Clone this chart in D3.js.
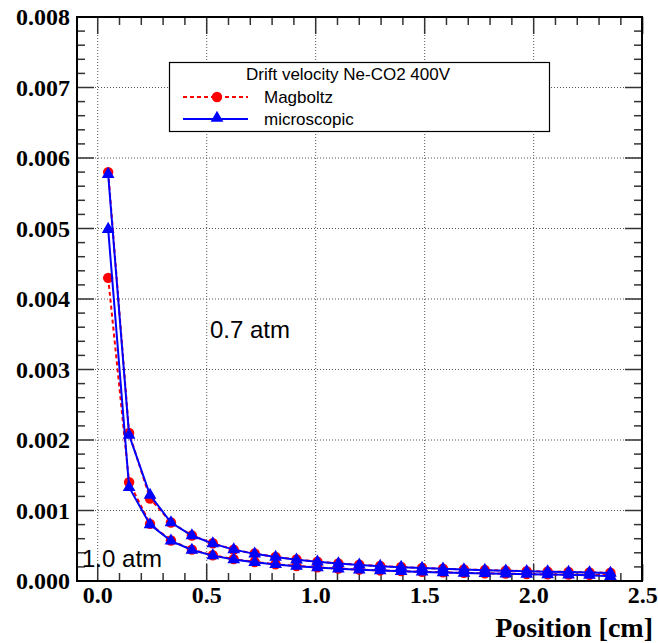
<!DOCTYPE html>
<html>
<head>
<meta charset="utf-8">
<script src="https://cdn.jsdelivr.net/npm/d3@7"></script>
<style>
  html, body { margin: 0; padding: 0; background: #fff; }
  svg { display: block; }
</style>
</head>
<body>
<svg id="chart" width="658" height="643"></svg>
<script>
// Drift position bins (cm): 25 bins of width 0.096 from 0 to 2.4, centres
const positions = [0.048, 0.144, 0.240, 0.336, 0.432, 0.528, 0.624, 0.720, 0.816, 0.912,
  1.008, 1.104, 1.200, 1.296, 1.392, 1.488, 1.584, 1.680, 1.776, 1.872,
  1.968, 2.064, 2.160, 2.256, 2.352];

// Drift velocity (cm/ns) at 0.7 atm
const magboltz07 = [0.00580, 0.00210, 0.00117, 0.00083, 0.000645, 0.000535, 0.000445, 0.000390, 0.000340, 0.000305,
  0.000275, 0.000250, 0.000230, 0.000213, 0.000198, 0.000185, 0.000174, 0.000164, 0.000155, 0.000147,
  0.000140, 0.000134, 0.000128, 0.000122, 0.000117];
const micro07 = [0.00577, 0.00207, 0.00122, 0.00083, 0.000645, 0.000530, 0.000445, 0.000385, 0.000340, 0.000300,
  0.000272, 0.000248, 0.000228, 0.000210, 0.000196, 0.000183, 0.000172, 0.000162, 0.000153, 0.000145,
  0.000138, 0.000132, 0.000126, 0.000120, 0.000113];

// Drift velocity (cm/ns) at 1.0 atm
const magboltz10 = [0.00430, 0.00140, 0.00081, 0.000575, 0.000445, 0.000365, 0.000310, 0.000270, 0.000238, 0.000213,
  0.000193, 0.000176, 0.000162, 0.000150, 0.000140, 0.000131, 0.000123, 0.000116, 0.000110, 0.000104,
  0.000099, 0.000094, 0.000090, 0.000086, 0.000083];
const micro10 = [0.00499, 0.00133, 0.00080, 0.000570, 0.000440, 0.000360, 0.000305, 0.000265, 0.000235, 0.000210,
  0.000190, 0.000173, 0.000160, 0.000148, 0.000138, 0.000129, 0.000121, 0.000114, 0.000108, 0.000102,
  0.000097, 0.000092, 0.000088, 0.000083, 0.000068];

const xMajorTicks = [0, 0.5, 1.0, 1.5, 2.0, 2.5];
const yMajorTicks = [0, 0.001, 0.002, 0.003, 0.004, 0.005, 0.006, 0.007, 0.008];
const xTitle = "Position [cm]";
const legendTitle = "Drift velocity Ne-CO2 400V";
const seriesNames = ["Magboltz", "microscopic"];
const pressureLabels = [
  { text: "0.7 atm", x: 0.515, y: 0.00344 },
  { text: "1.0 atm", x: -0.072, y: 0.0002 }
];

const svg = d3.select("#chart");
const frame = { left: 77, right: 642, top: 17, bottom: 581 };

const x = d3.scaleLinear().domain([-0.095, 2.497]).range([frame.left, frame.right]);
const y = d3.scaleLinear().domain([0, 0.008]).range([frame.bottom, frame.top]);

// dotted grid at major ticks
const grid = svg.append("g").attr("stroke", "#555").attr("stroke-width", 1).attr("stroke-dasharray", "1,2");
grid.selectAll("line.gx").data(xMajorTicks.filter(t => t < 2.5)).join("line")
  .attr("x1", d => x(d)).attr("x2", d => x(d))
  .attr("y1", frame.top).attr("y2", frame.bottom);
grid.selectAll("line.gy").data(yMajorTicks.filter(t => t > 0 && t < 0.008)).join("line")
  .attr("y1", d => y(d)).attr("y2", d => y(d))
  .attr("x1", frame.left).attr("x2", frame.right);

// ticks on all four sides, pointing inward
const xMinor = d3.range(0, 2.5001, 0.1);
const yMinor = d3.range(0, 0.00801, 0.0002);
const isMajorX = v => Math.abs(v / 0.5 - Math.round(v / 0.5)) < 1e-6;
const isMajorY = v => Math.abs(v / 0.001 - Math.round(v / 0.001)) < 1e-6;
const ticks = svg.append("g").attr("stroke", "#333").attr("stroke-width", 1.5);
xMinor.forEach(v => {
  const len = isMajorX(v) ? 17 : 8;
  ticks.append("line").attr("x1", x(v)).attr("x2", x(v)).attr("y1", frame.bottom).attr("y2", frame.bottom - len);
  ticks.append("line").attr("x1", x(v)).attr("x2", x(v)).attr("y1", frame.top).attr("y2", frame.top + len);
});
yMinor.forEach(v => {
  const len = isMajorY(v) ? 17 : 8;
  ticks.append("line").attr("y1", y(v)).attr("y2", y(v)).attr("x1", frame.left).attr("x2", frame.left + len);
  ticks.append("line").attr("y1", y(v)).attr("y2", y(v)).attr("x1", frame.right).attr("x2", frame.right - len);
});

// frame
svg.append("rect")
  .attr("x", frame.left).attr("y", frame.top)
  .attr("width", frame.right - frame.left).attr("height", frame.bottom - frame.top)
  .attr("fill", "none").attr("stroke", "#000").attr("stroke-width", 2);

// tick labels
const labelFont = "'Liberation Serif', 'Times New Roman', serif";
svg.append("g").selectAll("text").data(xMajorTicks).join("text")
  .attr("x", d => x(d)).attr("y", 603)
  .attr("text-anchor", "middle")
  .attr("font-family", labelFont).attr("font-weight", "bold").attr("font-size", 24)
  .text(d => d3.format(".1f")(d));
svg.append("g").selectAll("text").data(yMajorTicks).join("text")
  .attr("x", 70).attr("y", d => y(d) + 8)
  .attr("text-anchor", "end")
  .attr("font-family", labelFont).attr("font-weight", "bold").attr("font-size", 24)
  .text(d => d3.format(".3f")(d));

svg.append("text")
  .attr("x", 653).attr("y", 637)
  .attr("text-anchor", "end")
  .attr("font-family", labelFont).attr("font-weight", "bold").attr("font-size", 28)
  .text(xTitle);

// series drawing helpers
const line = d3.line().x((d, i) => x(positions[i])).y(d => y(d));
const tri = d3.symbol().type(d3.symbolTriangle).size(70);

function drawMagboltz(vals) {
  const g = svg.append("g");
  g.append("path").attr("d", line(vals)).attr("fill", "none")
    .attr("stroke", "#ff0000").attr("stroke-width", 2).attr("stroke-dasharray", "4,3");
  g.selectAll("circle").data(vals).join("circle")
    .attr("cx", (d, i) => x(positions[i])).attr("cy", d => y(d)).attr("r", 5.2)
    .attr("fill", "#ff0000");
}
function drawMicro(vals) {
  const g = svg.append("g");
  g.append("path").attr("d", line(vals)).attr("fill", "none")
    .attr("stroke", "#0000ff").attr("stroke-width", 2);
  g.selectAll("path.m").data(vals).join("path").attr("class", "m")
    .attr("d", tri)
    .attr("transform", (d, i) => `translate(${x(positions[i])},${y(d)})`)
    .attr("fill", "#0000ff");
}
drawMagboltz(magboltz07);
drawMagboltz(magboltz10);
drawMicro(micro07);
drawMicro(micro10);

// pressure annotations
const sansFont = "'Liberation Sans', Arial, Helvetica, sans-serif";
svg.append("g").selectAll("text").data(pressureLabels).join("text")
  .attr("x", d => x(d.x)).attr("y", d => y(d.y))
  .attr("font-family", sansFont).attr("font-size", 24)
  .text(d => d.text);

// legend
const lg = svg.append("g");
lg.append("rect").attr("x", 169.5).attr("y", 62.5).attr("width", 380).attr("height", 69)
  .attr("fill", "#fff").attr("stroke", "#000").attr("stroke-width", 1.2);
lg.append("text").attr("x", 246).attr("y", 80)
  .attr("font-family", sansFont).attr("font-size", 17).text(legendTitle);
// Magboltz entry
lg.append("line").attr("x1", 183).attr("x2", 248).attr("y1", 97).attr("y2", 97)
  .attr("stroke", "#ff0000").attr("stroke-width", 2).attr("stroke-dasharray", "4,3");
lg.append("circle").attr("cx", 217).attr("cy", 97).attr("r", 5.2).attr("fill", "#ff0000");
lg.append("text").attr("x", 264).attr("y", 103)
  .attr("font-family", sansFont).attr("font-size", 17).text(seriesNames[0]);
// microscopic entry
lg.append("line").attr("x1", 183).attr("x2", 248).attr("y1", 119).attr("y2", 119)
  .attr("stroke", "#0000ff").attr("stroke-width", 2);
lg.append("path").attr("d", tri).attr("transform", "translate(217,118)").attr("fill", "#0000ff");
lg.append("text").attr("x", 264).attr("y", 125)
  .attr("font-family", sansFont).attr("font-size", 17).text(seriesNames[1]);
</script>
</body>
</html>
